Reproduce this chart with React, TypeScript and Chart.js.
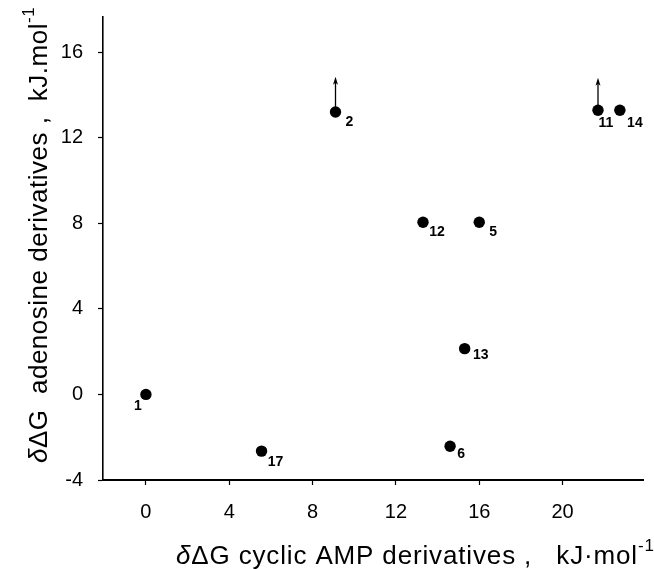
import React, { useEffect, useRef } from 'react';
import { Chart, registerables } from 'chart.js';

Chart.register(...registerables);

// Compound numbers and their δΔG values (kJ/mol)
const COMPOUNDS = ['1', '2', '5', '6', '11', '12', '13', '14', '17'];
const CAMP_DDG = [0, 9.1, 16.0, 14.6, 21.7, 13.3, 15.3, 22.75, 5.55];
const ADENOSINE_DDG = [0, 13.2, 8.05, -2.42, 13.28, 8.05, 2.14, 13.28, -2.65];

// Lower-limit values (arrows pointing up) for some compounds
const ARROW_COMPOUNDS = ['2', '11'];
const ARROW_TOPS = [14.85, 14.8];

const X_TICKS = [0, 4, 8, 12, 16, 20];
const Y_TICKS = [-4, 0, 4, 8, 12, 16];

const X_MIN = -2.06;
const X_MAX = 23.86;
const Y_MIN = -4;
const Y_MAX = 17.64;

// label placement relative to each point (style only)
const LABEL_OFFSETS: Record<string, [number, number]> = {
  '1': [-8, 12],
  '2': [14, 10],
  '5': [14, 10],
  '6': [11, 8],
  '11': [8, 13],
  '12': [14, 10],
  '13': [16, 7],
  '14': [15, 13],
  '17': [14, 11],
};

const FONT = '"Liberation Sans", Arial, Helvetica, sans-serif';
const LABEL_FONT = 'bold 14px "Liberation Sans Narrow", "Liberation Sans", Arial, sans-serif';

type Seg = { text: string; font: string; dy?: number };

function drawSegs(ctx: CanvasRenderingContext2D, segs: Seg[], x: number, y: number, spacing: string) {
  let cx = x;
  ctx.textAlign = 'left';
  ctx.textBaseline = 'alphabetic';
  (ctx as any).letterSpacing = spacing;
  for (const s of segs) {
    ctx.font = s.font;
    ctx.fillText(s.text, cx, y + (s.dy || 0));
    cx += ctx.measureText(s.text).width;
  }
  (ctx as any).letterSpacing = '0px';
}

const annotatePlugin = {
  id: 'annotate',
  afterDatasetsDraw(chart: any) {
    const ctx: CanvasRenderingContext2D = chart.ctx;
    const xs = chart.scales.x;
    const ys = chart.scales.y;
    ctx.save();
    ctx.fillStyle = '#000';
    ctx.strokeStyle = '#000';

    // arrows
    ARROW_COMPOUNDS.forEach((c, k) => {
      const i = COMPOUNDS.indexOf(c);
      const px = xs.getPixelForValue(CAMP_DDG[i]);
      const py = ys.getPixelForValue(ADENOSINE_DDG[i]);
      const ty = ys.getPixelForValue(ARROW_TOPS[k]);
      ctx.lineWidth = 1.3;
      ctx.beginPath();
      ctx.moveTo(px, py);
      ctx.lineTo(px, ty + 4);
      ctx.stroke();
      ctx.beginPath();
      ctx.moveTo(px, ty);
      ctx.lineTo(px - 2.5, ty + 8);
      ctx.lineTo(px, ty + 6);
      ctx.lineTo(px + 2.5, ty + 8);
      ctx.closePath();
      ctx.fill();
    });

    // point labels
    ctx.font = LABEL_FONT;
    ctx.textAlign = 'center';
    ctx.textBaseline = 'middle';
    COMPOUNDS.forEach((c, i) => {
      const px = xs.getPixelForValue(CAMP_DDG[i]);
      const py = ys.getPixelForValue(ADENOSINE_DDG[i]);
      const off = LABEL_OFFSETS[c] || [12, 10];
      ctx.fillText(c, px + off[0], py + off[1]);
    });

    // axis titles
    const main = `26px ${FONT}`;
    const ital = `italic 26px ${FONT}`;
    const sup = `17px ${FONT}`;
    drawSegs(
      ctx,
      [
        { text: 'δ', font: ital },
        { text: 'ΔG cyclic AMP derivatives ,   kJ·mol', font: main },
        { text: '-1', font: sup, dy: -13 },
      ],
      176,
      564,
      '0.85px'
    );

    ctx.save();
    ctx.translate(47, 463);
    ctx.rotate(-Math.PI / 2);
    drawSegs(
      ctx,
      [
        { text: 'δ', font: ital },
        { text: 'ΔG  adenosine derivatives ,  kJ.mol', font: main },
        { text: '-1', font: sup, dy: -13 },
      ],
      0,
      0,
      '0.5px'
    );
    ctx.restore();

    ctx.restore();
  },
};

export default function App() {
  const ref = useRef<HTMLCanvasElement | null>(null);

  useEffect(() => {
    if (!ref.current) return;
    const chart = new Chart(ref.current, {
      type: 'scatter',
      data: {
        datasets: [
          {
            label: 'compounds',
            data: COMPOUNDS.map((c, i) => ({ x: CAMP_DDG[i], y: ADENOSINE_DDG[i] })),
            pointRadius: 5.7,
            pointHoverRadius: 5.7,
            backgroundColor: '#000',
            borderColor: '#000',
            borderWidth: 0,
          },
        ],
      },
      options: {
        animation: false,
        responsive: false,
        devicePixelRatio: 1,
        layout: { padding: { top: 17, right: 11, left: 0, bottom: 0 } },
        plugins: {
          legend: { display: false },
          tooltip: { enabled: false },
        },
        events: [],
        scales: {
          x: {
            type: 'linear',
            min: X_MIN,
            max: X_MAX,
            afterBuildTicks: (s: any) => {
              s.ticks = X_TICKS.map((v) => ({ value: v }));
            },
            afterFit: (s: any) => {
              s.height = 89;
              s.paddingLeft = 0;
              s.paddingRight = 0;
            },
            ticks: {
              color: '#000',
              font: { family: FONT, size: 20 },
              padding: 15,
              maxRotation: 0,
              autoSkip: false,
              callback: (v: any) => String(v),
            },
            grid: {
              drawOnChartArea: false,
              drawTicks: true,
              tickLength: 5,
              tickColor: '#000',
              tickWidth: 1.2,
            },
            border: { display: true, color: '#000', width: 2 },
            title: { display: false },
          },
          y: {
            type: 'linear',
            min: Y_MIN,
            max: Y_MAX,
            afterBuildTicks: (s: any) => {
              s.ticks = Y_TICKS.map((v) => ({ value: v }));
            },
            afterFit: (s: any) => {
              s.width = 103;
              s.paddingTop = 0;
              s.paddingBottom = 0;
            },
            ticks: {
              color: '#000',
              font: { family: FONT, size: 20 },
              padding: 15,
              autoSkip: false,
              callback: (v: any) => String(v),
            },
            grid: {
              drawOnChartArea: false,
              drawTicks: true,
              tickLength: 5,
              tickColor: '#000',
              tickWidth: 1.2,
            },
            border: { display: true, color: '#000', width: 1.6 },
            title: { display: false },
          },
        },
      },
      plugins: [annotatePlugin],
    } as any);
    return () => chart.destroy();
  }, []);

  return (
    <div style={{ position: 'absolute', left: 0, top: 0, width: 654, height: 569, background: '#fff' }}>
      <canvas ref={ref} width={654} height={569} style={{ display: 'block' }} />
    </div>
  );
}
